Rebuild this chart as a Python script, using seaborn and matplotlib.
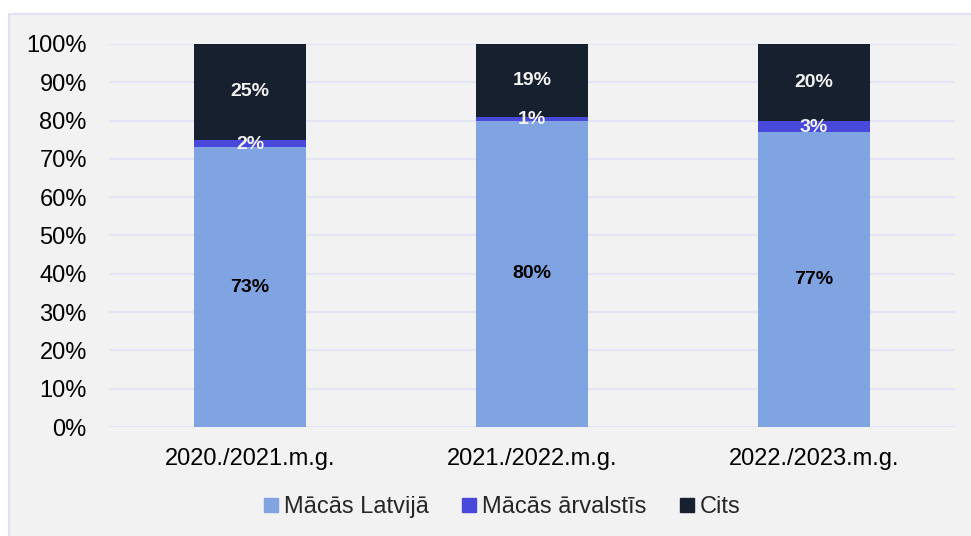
import matplotlib
matplotlib.use("Agg")
import matplotlib.pyplot as plt
import matplotlib.patches as mpatches
from matplotlib.lines import Line2D
from matplotlib.ticker import PercentFormatter
import seaborn as sns

years = ["2020./2021.m.g.", "2021./2022.m.g.", "2022./2023.m.g."]
latvija = [73, 80, 77]
arvalstis = [2, 1, 3]
cits = [25, 19, 20]
series_names = ["Mācās Latvijā", "Mācās ārvalstīs", "Cits"]
colors = ["#80a4e2", "#4848da", "#16202f"]

sns.set_style("white")
plt.rcParams["font.family"] = ["Liberation Sans", "DejaVu Sans"]

fig = plt.figure(figsize=(9.71, 5.36), dpi=100)
fig.patch.set_facecolor("white")
# light panel with thin border, like the original export
panel = mpatches.Rectangle((9 / 971, -0.01), 1.0, (536 - 14) / 536 + 0.01,
                           transform=fig.transFigure, facecolor="#f2f2f2",
                           edgecolor="#e0e0f8", linewidth=1.5, zorder=-1)
fig.patches.append(panel)

ax = fig.add_axes([109 / 971, 109 / 536, (955 - 109) / 971, (427 - 44) / 536])
ax.set_facecolor("none")

bottom2 = [a + b for a, b in zip(latvija, arvalstis)]
sns.barplot(x=years, y=latvija, color=colors[0], saturation=1, width=0.4, ax=ax, linewidth=0)
sns.barplot(x=years, y=arvalstis, bottom=latvija, color=colors[1], saturation=1, width=0.4, ax=ax, linewidth=0)
sns.barplot(x=years, y=cits, bottom=bottom2, color=colors[2], saturation=1, width=0.4, ax=ax, linewidth=0)

for i in range(len(years)):
    ax.text(i, latvija[i] / 2, f"{latvija[i]}%", ha="center", va="center",
            fontsize=14, fontweight="bold", color="black")
    ax.text(i, latvija[i] + arvalstis[i] / 2 - 0.3, f"{arvalstis[i]}%", ha="center", va="center",
            fontsize=14, fontweight="bold", color="#f2f2f2")
    ax.text(i, bottom2[i] + cits[i] / 2, f"{cits[i]}%", ha="center", va="center",
            fontsize=14, fontweight="bold", color="#f2f2f2")

ax.set_xlim(-0.5, 2.5)
ax.set_ylim(0, 100)
ax.set_yticks(range(0, 101, 10))
ax.yaxis.set_major_formatter(PercentFormatter(decimals=0))
ax.grid(axis="y", color="#e4e4f8", linewidth=1.5)
ax.set_axisbelow(True)
for s in ax.spines.values():
    s.set_visible(False)
ax.tick_params(axis="both", length=0, labelsize=17, colors="black")
ax.tick_params(axis="y", pad=16)
ax.tick_params(axis="x", pad=15)
ax.set_xlabel("")
ax.set_ylabel("")

handles = [Line2D([], [], marker="s", linestyle="none", markersize=10,
                  markerfacecolor=c, markeredgecolor=c) for c in colors]
fig.legend(handles, series_names, loc="center", bbox_to_anchor=(501 / 971, 1 - 507 / 536),
           ncol=3, frameon=False, fontsize=17, handletextpad=0.15, columnspacing=1.3,
           handlelength=0.8)

plt.savefig("out.png", dpi=100)
